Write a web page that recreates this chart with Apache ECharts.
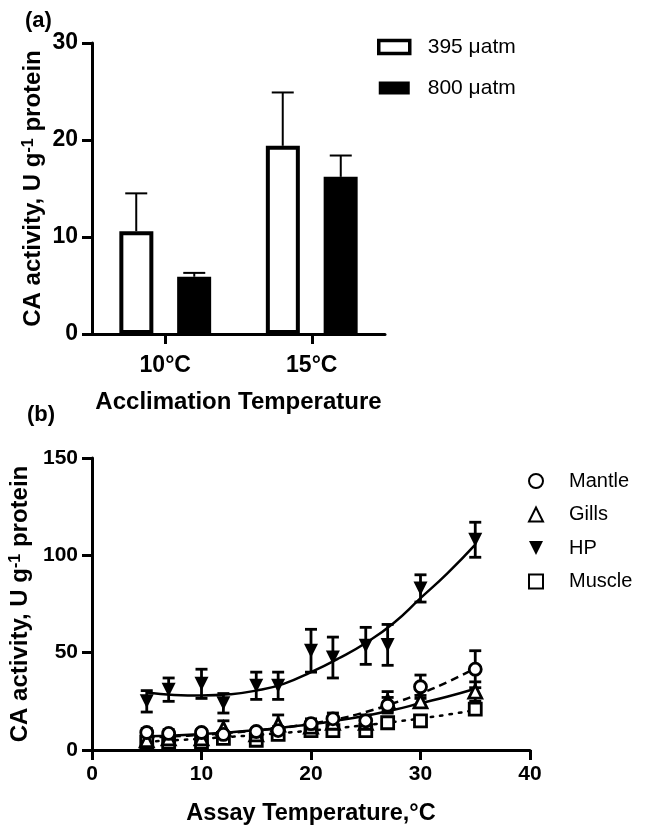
<!DOCTYPE html>
<html>
<head>
<meta charset="utf-8">
<script src="https://cdn.jsdelivr.net/npm/echarts@6/dist/echarts.min.js"></script>
<style>
  html, body { margin: 0; padding: 0; background: #fff; }
  #main { width: 647px; height: 828px; }
</style>
</head>
<body>
<div id="main"></div>
<script>
// panel (a): acclimation temperature bars
var acclimTemps = ['10°C', '15°C'];
var co2Low = [10.6, 19.4];      // 395 µatm
var co2LowErr = [3.9, 5.5];
var co2High = [5.9, 16.2];      // 800 µatm
var co2HighErr = [0.4, 2.2];

// panel (b): assay temperature curves
var assayTemps = [5, 7, 10, 12, 15, 17, 20, 22, 25, 27, 30, 35];
var mantle    = [9, 8.5, 9, 8, 9.5, 10, 13.5, 16, 15, 23, 32.5, 41.5];
var mantleErr = [2, 2, 1.5, 1.5, 1.5, 2, 2.5, 3, 3, 4, 6, 9.5];
var gills     = [5, 6, 6, 11, 8, 13, 12, 14, 14, 25, 25, 30];
var gillsErr  = [1.5, 1.5, 1.5, 4, 1.5, 5, 2, 3, 2, 5, 3, 5];
var hp        = [25, 31, 34, 24, 33, 33, 51, 47.5, 53.5, 54, 83, 108];
var hpErr     = [5.5, 6, 7.5, 5, 7, 7, 11, 10.5, 9.5, 10.5, 7, 9];
var muscle    = [4, 4, 4, 6, 5, 8, 10, 10, 10, 14, 15, 21];
var muscleErr = [1, 1, 1, 1.5, 1, 2, 2, 2, 2, 2, 1.5, 2.5];

// fitted curves
var fitTemps  = [5, 7.5, 10, 12.5, 15, 17.5, 20, 22.5, 25, 27.5, 30, 32.5, 35];
var fitHp     = [29.5, 28.3, 28, 28.6, 30.5, 34, 40, 47, 55, 65, 78, 91, 105.5];
var fitMantle = [6.5, 7, 7.8, 8.8, 10, 11.5, 13.5, 16, 19.5, 24, 29, 35, 42];
var fitGills  = [7, 7.5, 8.2, 9, 10.2, 11.6, 13.2, 15.2, 17.6, 20.5, 24, 27.5, 31.5];
var fitMuscle = [4.3, 5, 5.8, 6.7, 7.7, 8.8, 10, 11.3, 12.8, 14.4, 16.2, 18.2, 20.5];

var FONT = '"Liberation Sans", Arial, sans-serif';
var chart = echarts.init(document.getElementById('main'));

function zip(xs, ys, es) {
    return xs.map(function (x, i) { return es ? [x, ys[i], es[i]] : [x, ys[i]]; });
}

// error bar above a bar, shifted to the bar's slot
function barErr(shift) {
    return function (params, api) {
        var band = api.size([1, 0])[0];
        var base = api.coord([api.value(0), api.value(1)]);
        var top = api.coord([api.value(0), api.value(1) + api.value(2)]);
        var x = base[0] + band * shift;
        var st = { stroke: '#000', lineWidth: 2 };
        return {
            type: 'group',
            children: [
                { type: 'line', shape: { x1: x, y1: base[1], x2: x, y2: top[1] }, style: st },
                { type: 'line', shape: { x1: x - 11, y1: top[1], x2: x + 11, y2: top[1] }, style: st }
            ]
        };
    };
}

// symmetric error bar with caps
function pointErr(params, api) {
    var x = api.value(0), v = api.value(1), e = api.value(2);
    var hi = api.coord([x, v + e]);
    var lo = api.coord([x, v - e]);
    var st = { stroke: '#000', lineWidth: 2.8 };
    return {
        type: 'group',
        children: [
            { type: 'line', shape: { x1: hi[0], y1: hi[1], x2: lo[0], y2: lo[1] }, style: st },
            { type: 'line', shape: { x1: hi[0] - 6, y1: hi[1], x2: hi[0] + 6, y2: hi[1] }, style: st },
            { type: 'line', shape: { x1: lo[0] - 6, y1: lo[1], x2: lo[0] + 6, y2: lo[1] }, style: st }
        ]
    };
}

function yName() {
    return {
        name: '{t|CA activity, U g}{s|-1}{t| protein}',
        nameLocation: 'middle',
        nameGap: 47,
        nameTextStyle: {
            rich: {
                t: { fontFamily: FONT, fontSize: 24, fontWeight: 'bold', color: '#000' },
                s: { fontFamily: FONT, fontSize: 16, fontWeight: 'bold', color: '#000', verticalAlign: 'top' }
            }
        }
    };
}

var axisLine = { show: true, lineStyle: { color: '#000', width: 3 } };
var axisTick = { show: true, length: 10, lineStyle: { color: '#000', width: 3 } };
var tickLabel = { fontFamily: FONT, fontSize: 21, fontWeight: 'bold', color: '#000' };

var downTri = 'path://M0,0 L10,0 L5,10 Z';
var openStyle = { color: '#fff', borderColor: '#000', borderWidth: 2.8, opacity: 1 };

var option = {
    animation: false,
    backgroundColor: '#fff',
    title: [
        { text: '(a)', left: 20, top: 5, textStyle: { fontFamily: FONT, fontSize: 22, fontWeight: 'bold', color: '#000' } },
        { text: '(b)', left: 22, top: 399, textStyle: { fontFamily: FONT, fontSize: 22, fontWeight: 'bold', color: '#000' } }
    ],
    legend: [
        {
            left: 372, top: 30, orient: 'vertical',
            itemWidth: 31, itemHeight: 13, itemGap: 17,
            textStyle: { fontFamily: FONT, fontSize: 21, color: '#000', padding: [0, 0, 0, 13], lineHeight: 24 },
            data: [
                { name: '395 μatm', icon: 'rect', itemStyle: { color: '#fff', borderColor: '#000', borderWidth: 3.5 } },
                { name: '800 μatm', icon: 'rect', itemStyle: { color: '#000', borderColor: '#000', borderWidth: 0 } }
            ]
        },
        {
            left: 523, top: 466, orient: 'vertical',
            itemWidth: 14, itemHeight: 14, itemGap: 13.5,
            textStyle: { fontFamily: FONT, fontSize: 20, color: '#000', padding: [0, 0, 0, 21], lineHeight: 20 },
            data: ['Mantle', 'Gills', 'HP', 'Muscle']
        }
    ],
    grid: [
        { left: 92, right: 262, top: 43, bottom: 494 },
        { left: 92, right: 117, top: 458, bottom: 78 }
    ],
    xAxis: [
        {
            gridIndex: 0, type: 'category', data: acclimTemps,
            axisLine: axisLine,
            axisTick: Object.assign({ alignWithLabel: true }, axisTick),
            axisLabel: Object.assign({}, tickLabel, { margin: 20, fontSize: 23 }),
            name: 'Acclimation Temperature', nameLocation: 'middle', nameGap: 56,
            nameTextStyle: { fontFamily: FONT, fontSize: 24, fontWeight: 'bold', color: '#000' }
        },
        {
            gridIndex: 1, type: 'value', min: 0, max: 40, interval: 10,
            axisLine: axisLine, axisTick: axisTick, splitLine: { show: false },
            axisLabel: Object.assign({}, tickLabel, { margin: 14 }),
            name: 'Assay Temperature,°C', nameLocation: 'middle', nameGap: 52,
            nameTextStyle: { fontFamily: FONT, fontSize: 23.5, fontWeight: 'bold', color: '#000' }
        }
    ],
    yAxis: [
        Object.assign({
            gridIndex: 0, type: 'value', min: 0, max: 30, interval: 10,
            axisLine: axisLine, axisTick: axisTick, splitLine: { show: false },
            axisLabel: Object.assign({}, tickLabel, { margin: 14, fontSize: 23 })
        }, yName()),
        Object.assign({
            gridIndex: 1, type: 'value', min: 0, max: 150, interval: 50,
            axisLine: axisLine, axisTick: axisTick, splitLine: { show: false },
            axisLabel: Object.assign({}, tickLabel, { margin: 14 })
        }, yName())
    ],
    series: [
        {
            name: '395 μatm', type: 'bar', xAxisIndex: 0, yAxisIndex: 0,
            data: co2Low, barWidth: 34, barGap: '70%', z: 3,
            itemStyle: { color: '#fff', borderColor: '#000', borderWidth: 4 }
        },
        {
            name: '800 μatm', type: 'bar', xAxisIndex: 0, yAxisIndex: 0,
            data: co2High, barWidth: 34, barGap: '70%', z: 3,
            itemStyle: { color: '#000', borderColor: '#000', borderWidth: 4 }
        },
        {
            type: 'custom', xAxisIndex: 0, yAxisIndex: 0, z: 2,
            renderItem: barErr(-0.198),
            data: co2Low.map(function (v, i) { return [i, v, co2LowErr[i]]; })
        },
        {
            type: 'custom', xAxisIndex: 0, yAxisIndex: 0, z: 2,
            renderItem: barErr(0.198),
            data: co2High.map(function (v, i) { return [i, v, co2HighErr[i]]; })
        },

        // fitted curves
        { type: 'line', xAxisIndex: 1, yAxisIndex: 1, data: zip(fitTemps, fitHp), smooth: true, symbol: 'none', z: 2,
          lineStyle: { color: '#000', width: 2.5, type: 'solid' } },
        { type: 'line', xAxisIndex: 1, yAxisIndex: 1, data: zip(fitTemps, fitMantle), smooth: true, symbol: 'none', z: 2,
          lineStyle: { color: '#000', width: 2.5, type: [8, 5] } },
        { type: 'line', xAxisIndex: 1, yAxisIndex: 1, data: zip(fitTemps, fitGills), smooth: true, symbol: 'none', z: 2,
          lineStyle: { color: '#000', width: 2.5, type: 'solid' } },
        { type: 'line', xAxisIndex: 1, yAxisIndex: 1, data: zip(fitTemps, fitMuscle), smooth: true, symbol: 'none', z: 2,
          lineStyle: { color: '#000', width: 2.5, type: [2.5, 7], cap: 'round' } },

        // error bars
        { type: 'custom', xAxisIndex: 1, yAxisIndex: 1, z: 3, renderItem: pointErr, data: zip(assayTemps, hp, hpErr) },
        { type: 'custom', xAxisIndex: 1, yAxisIndex: 1, z: 3, renderItem: pointErr, data: zip(assayTemps, mantle, mantleErr) },
        { type: 'custom', xAxisIndex: 1, yAxisIndex: 1, z: 3, renderItem: pointErr, data: zip(assayTemps, gills, gillsErr) },
        { type: 'custom', xAxisIndex: 1, yAxisIndex: 1, z: 3, renderItem: pointErr, data: zip(assayTemps, muscle, muscleErr) },

        // points
        { name: 'Muscle', type: 'scatter', xAxisIndex: 1, yAxisIndex: 1, z: 4, symbol: 'rect', symbolSize: 12,
          itemStyle: openStyle, data: zip(assayTemps, muscle) },
        { name: 'Gills', type: 'scatter', xAxisIndex: 1, yAxisIndex: 1, z: 4, symbol: 'triangle', symbolSize: 13,
          itemStyle: openStyle, data: zip(assayTemps, gills) },
        { name: 'Mantle', type: 'scatter', xAxisIndex: 1, yAxisIndex: 1, z: 4, symbol: 'circle', symbolSize: 12,
          itemStyle: openStyle, data: zip(assayTemps, mantle) },
        { name: 'HP', type: 'scatter', xAxisIndex: 1, yAxisIndex: 1, z: 4, symbol: downTri, symbolSize: 14,
          itemStyle: { color: '#000', borderColor: '#000', borderWidth: 0, opacity: 1 }, data: zip(assayTemps, hp) }
    ]
};

chart.setOption(option);
</script>
</body>
</html>
